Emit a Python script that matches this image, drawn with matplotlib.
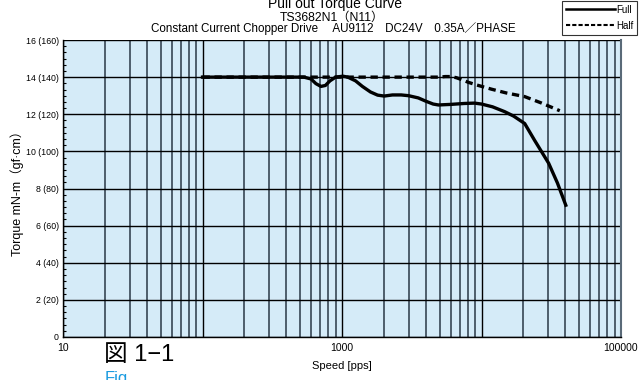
import numpy as np
import matplotlib
matplotlib.use("Agg")
import matplotlib.pyplot as plt
from matplotlib.ticker import LogLocator, FixedLocator, FuncFormatter, MultipleLocator
from matplotlib.lines import Line2D

plt.rcParams['font.family'] = ['Liberation Sans', 'Noto Sans CJK JP', 'DejaVu Sans']

# datos
full_speed = [100, 300, 533, 600, 650, 706, 760, 820, 900, 1016, 1100, 1250, 1400, 1600,
              1800, 2005, 2300, 2656, 3000, 3522, 4000, 4500, 4908, 6000, 7500, 8913,
              10000, 12000, 14650, 17000, 20400, 24000, 30300, 35000, 40200]
full_torque = [14.0, 14.0, 14.0, 13.9, 13.65, 13.5, 13.55, 13.8, 14.0, 14.05, 14.0, 13.8,
               13.5, 13.2, 13.03, 12.98, 13.04, 13.04, 13.0, 12.88, 12.7, 12.55, 12.5,
               12.53, 12.58, 12.6, 12.55, 12.4, 12.14, 11.9, 11.5, 10.6, 9.36, 8.3, 7.1]
half_speed = [100, 1000, 3000, 5000, 5500, 6000, 6600, 7300, 8050, 9200, 11800, 15000,
              20400, 27000, 36400]
half_torque = [14.0, 14.0, 14.0, 14.0, 14.03, 14.03, 13.97, 13.85, 13.72, 13.58, 13.35,
               13.15, 12.95, 12.6, 12.19]

y_ticks = [0, 2, 4, 6, 8, 10, 12, 14, 16]
y_labels = ['0', '2 (20)', '4 (40)', '6 (60)', '8 (80)', '10 (100)', '12 (120)',
            '14 (140)', '16 (160)']

fig = plt.figure(figsize=(6.39, 3.8), dpi=100)
ax = fig.add_axes([63/639, 1-337/380, 558/639, 297/380])
ax.set_facecolor('#d5ebf8')

ax.set_xscale('log')
ax.set_xlim(10, 100000)
ax.set_ylim(0, 16)

# grilla vertical
ax.xaxis.set_major_locator(FixedLocator([10, 100, 1000, 10000, 100000]))
ax.xaxis.set_minor_locator(LogLocator(base=10, subs=np.arange(2, 10)))
ax.xaxis.set_major_formatter(FuncFormatter(lambda v, p: '%d' % v if v in (10, 1000, 100000) else ''))
ax.xaxis.set_minor_formatter(FuncFormatter(lambda v, p: ''))
ax.grid(which='major', axis='x', color='black', lw=1.0)
ax.grid(which='minor', axis='x', color='#4e5e6c', lw=1.4)
ax.set_yticks(y_ticks)
ax.set_yticklabels(y_labels)
ax.yaxis.set_minor_locator(MultipleLocator(2/6))
ax.grid(which='major', axis='y', color='black', lw=1.0)
ax.tick_params(axis='x', which='both', length=0, labelsize=7.5, pad=4)
ax.tick_params(axis='y', which='major', length=0, labelsize=6.3, pad=3)
ax.tick_params(axis='y', which='minor', length=2, direction='in', width=0.8)
ax.set_axisbelow(True)

ax.spines['top'].set_visible(False)
ax.spines['right'].set_color('#5a6a78')
ax.spines['right'].set_linewidth(1.5)
ax.spines['left'].set_linewidth(1.0)
ax.spines['bottom'].set_linewidth(1.0)

ax.plot(full_speed, full_torque, color='black', lw=2.4, solid_joinstyle='round')
ax.plot(half_speed, half_torque, color='black', lw=2.4, ls=(0, (2.2, 1.4)))

ax.set_xlabel('Speed [pps]', fontsize=8, labelpad=6)
fig.text(17/639, 1-190/380, 'Torque mN-m（gf·cm）', ha='center', va='center',
         rotation=90, fontsize=9)

fig.text(335/639, 1-4/380, 'Pull out Torque Curve', ha='center', va='center', fontsize=10)
fig.text(332/639, 1-17.5/380, 'TS3682N1（N11）', ha='center', va='center', fontsize=8.8)
fig.text(333/639, 1-28.5/380, 'Constant Current Chopper Drive　 AU9112　DC24V　0.35A／PHASE',
         ha='center', va='center', fontsize=8.4)

fig.text(104/639, 1-355/380, '図 1−1', ha='left', va='center', fontsize=17)
fig.text(105/639, 1-379/380, 'Fig', ha='left', va='center', fontsize=12, color='#1a9be0')

# leyenda
h1 = Line2D([], [], color='black', lw=1.8)
h2 = Line2D([], [], color='black', lw=1.5, ls=(0, (2, 1)))
leg = fig.legend([h1, h2], ['Full', 'Half'], loc='upper right',
                 bbox_to_anchor=(637/639, 1-1/380), fontsize=7, frameon=True,
                 fancybox=False, handlelength=5, handletextpad=0.1,
                 borderpad=0.4, labelspacing=0.6, borderaxespad=0)
leg.get_frame().set_edgecolor('black')
leg.get_frame().set_linewidth(0.8)

plt.savefig('out.png', dpi=100)
